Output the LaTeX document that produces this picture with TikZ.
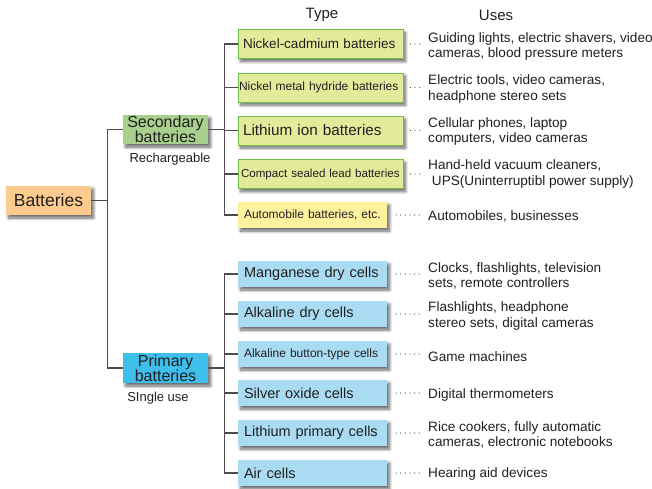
\documentclass[tikz,border=0pt]{standalone}
\usepackage{fontspec}
\setmainfont{Liberation Sans}
\usetikzlibrary{shadows.blur}

\definecolor{batorange}{HTML}{FDCB8D}
\definecolor{secgreen}{HTML}{A9D18E}
\definecolor{priblue}{HTML}{3DBEEB}
\definecolor{cellgreen}{HTML}{E3EB9B}
\definecolor{edgegreen}{HTML}{6DBE45}
\definecolor{autoyellow}{HTML}{FFF29F}
\definecolor{cellblue}{HTML}{A9DCF3}
\definecolor{inkgray}{HTML}{231F20}
\definecolor{linegray}{HTML}{4D4D4D}
\definecolor{dotgray}{HTML}{555555}

\newcommand{\fsize}[1]{\fontsize{#1}{#1}\selectfont}

\tikzset{
	boxshadow/.style={blur shadow={shadow xshift=2.5pt, shadow yshift=-3pt,
			shadow blur radius=3pt, shadow blur steps=8, shadow opacity=60}},
	branch/.style={draw=linegray, line width=1.1pt},
	leader/.style={draw=dotgray, line width=1.3pt, dash pattern=on 0pt off 4.6pt,
		line cap=round, shorten <=#1, shorten >=8pt},
	leader/.default=9pt
}

\begin{document}
\begin{tikzpicture}[x=1pt, y=-1pt, text=inkgray]
	\tikzstyle{head} = [font=\fsize{15}]
	\tikzstyle{group} = [boxshadow, minimum width=85pt, minimum height=29pt, inner sep=0pt, align=center, font=\fontsize{16}{15}\selectfont]
	\tikzstyle{second} = [boxshadow, draw=edgegreen, line width=0.9pt, fill=cellgreen, minimum height=29pt, text width=155pt, inner xsep=5pt, inner ysep=0pt, align=left]
	\tikzstyle{primary} = [boxshadow, fill=cellblue, minimum height=26pt, text width=137pt, inner xsep=6pt, inner ysep=0pt, align=left, font=\fsize{14.5}]
	\tikzstyle{uses} = [anchor=west, align=left, inner sep=0pt, font=\fontsize{13.6}{15.5}\selectfont]

	\useasboundingbox (0,0) rectangle (652,488);

	% column heads
	\node[head] (type) at (322,15) {Type};
	\node[head] (use) at (496,15) {Uses};

	% root and the two groups
	\node[group, fill=batorange, font=\fsize{17.5}] (bat) at (48.5,200.5) {Batteries};
	\node[group, fill=secgreen] (sec) at (165.5,129.5) {Secondary\\batteries};
	\node[group, fill=priblue, minimum height=30pt] (pri) at (165.5,368) {Primary\\batteries};
	\node[font=\fsize{13}] (recharge) at (170,159) {Rechargeable};
	\node[font=\fsize{13}] (single) at (158,398) {SIngle use};

	% secondary batteries
	\node[second, font=\fsize{13.5}] (nicd) at (320.5,44) {Nickel-cadmium batteries};
	\node[second, font=\fsize{12}, text width=163pt, inner xsep=1pt] (nimh) at (320.5,87.5) {Nickel metal hydride batteries};
	\node[second, font=\fsize{15.3}] (liion) at (320.5,130.5) {Lithium ion batteries};
	\node[second, font=\fsize{11.6}, text width=159pt, inner xsep=3pt] (lead) at (320.5,174) {Compact sealed lead batteries};
	\node[primary, fill=autoyellow, font=\fsize{12}] (auto) at (312.5,215) {Automobile batteries, etc.};

	% primary batteries
	\node[primary] (mn) at (312.5,274) {Manganese dry cells};
	\node[primary] (alk) at (312.5,314) {Alkaline dry cells};
	\node[primary, font=\fsize{12}] (button) at (312.5,354) {Alkaline button-type cells};
	\node[primary] (silver) at (312.5,393) {Silver oxide cells};
	\node[primary] (lip) at (312.5,433) {Lithium primary cells};
	\node[primary] (air) at (312.5,473) {Air cells};

	% uses
	\node[uses] (u-nicd) at (428,46.5) {Guiding lights, electric shavers, video\\cameras, blood pressure meters};
	\node[uses] (u-nimh) at (428,89) {Electric tools, video cameras,\\headphone stereo sets};
	\node[uses] (u-liion) at (428,131.5) {Cellular phones, laptop\\computers, video cameras};
	\node[uses] (u-lead) at (428,174) {Hand-held vacuum cleaners,\\\ UPS(Uninterruptibl power supply)};
	\node[uses] (u-auto) at (428,216) {Automobiles, businesses};
	\node[uses] (u-mn) at (428,276) {Clocks, flashlights, television\\sets, remote controllers};
	\node[uses] (u-alk) at (428,316) {Flashlights, headphone\\stereo sets, digital cameras};
	\node[uses] (u-button) at (428,357) {Game machines};
	\node[uses] (u-silver) at (428,395) {Digital thermometers};
	\node[uses] (u-lip) at (428,435) {Rice cookers, fully automatic\\cameras, electronic notebooks};
	\node[uses] (u-air) at (428,474) {Hearing aid devices};

	% tree lines
	\foreach \c in {sec,pri}
		\draw[branch] (bat.east) -- ++(16,0) |- (\c.west);
	\foreach \c in {nicd,nimh,liion,lead,auto}
		\draw[branch] (sec.east) -- ++(16,0) |- (\c.west);
	\foreach \c in {mn,alk,button,silver,lip,air}
		\draw[branch] (pri.east) -- ++(16,0) |- (\c.west);

	% dotted leaders to the uses
	\foreach \c in {nicd,nimh,liion,lead}
		\draw[leader=7pt] (\c.east) -- (u-\c.west |- \c.east);
	\foreach \c in {auto,mn,alk,button,silver,lip,air}
		\draw[leader] (\c.east) -- (u-\c.west |- \c.east);
\end{tikzpicture}
\end{document}
